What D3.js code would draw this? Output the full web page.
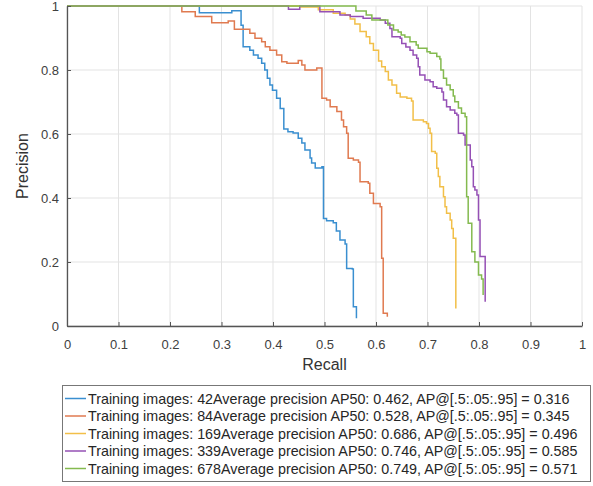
<!DOCTYPE html>
<meta charset="utf-8">
<html>
<head>
<title>precision recall</title>
<style>
    body {
        margin: 0;
        background: #fff;
        font-family: "Liberation Sans", Arial, sans-serif;
    }
</style>
<script src="https://d3js.org/d3.v7.min.js"></script>
</head>
<body>
<div id="chart"></div>

<script>

// legend labels
var labels = [
  "Training images: 42Average precision AP50: 0.462, AP@[.5:.05:.95] = 0.316",
  "Training images: 84Average precision AP50: 0.528, AP@[.5:.05:.95] = 0.345",
  "Training images: 169Average precision AP50: 0.686, AP@[.5:.05:.95] = 0.496",
  "Training images: 339Average precision AP50: 0.746, AP@[.5:.05:.95] = 0.585",
  "Training images: 678Average precision AP50: 0.749, AP@[.5:.05:.95] = 0.571"
];
var colors = ["#3a8fd0", "#e07a50", "#f2bf48", "#9550b5", "#84ba4f"];

// tick values
var xTicks = [0, 0.1, 0.2, 0.3, 0.4, 0.5, 0.6, 0.7, 0.8, 0.9, 1];
var yTicks = [0, 0.2, 0.4, 0.6, 0.8, 1];

// (recall, precision)
var recall42 = [0, 0.257, 0.320, 0.338, 0.342, 0.355, 0.362, 0.371, 0.378, 0.384, 0.389, 0.394, 0.399, 0.407, 0.414, 0.421, 0.429, 0.439, 0.449, 0.456, 0.462, 0.472, 0.475, 0.482, 0.495, 0.498, 0.504, 0.517, 0.523, 0.530, 0.540, 0.543, 0.554, 0.556, 0.562, 0.562];
var prec42   = [1, 0.979, 0.985, 0.940, 0.873, 0.862, 0.847, 0.837, 0.821, 0.800, 0.774, 0.753, 0.737, 0.712, 0.680, 0.616, 0.607, 0.603, 0.587, 0.572, 0.550, 0.525, 0.509, 0.494, 0.498, 0.336, 0.329, 0.323, 0.297, 0.269, 0.256, 0.180, 0.178, 0.060, 0.058, 0.024];

var recall84 = [0, 0.223, 0.249, 0.281, 0.313, 0.325, 0.355, 0.365, 0.378, 0.385, 0.394, 0.407, 0.417, 0.427, 0.449, 0.456, 0.462, 0.485, 0.495, 0.504, 0.511, 0.524, 0.533, 0.537, 0.543, 0.546, 0.556, 0.566, 0.569, 0.585, 0.588, 0.595, 0.608, 0.611, 0.614, 0.622];
var prec84   = [1, 0.982, 0.967, 0.948, 0.953, 0.927, 0.915, 0.899, 0.888, 0.873, 0.862, 0.847, 0.826, 0.821, 0.830, 0.816, 0.800, 0.806, 0.712, 0.706, 0.685, 0.670, 0.644, 0.623, 0.602, 0.524, 0.519, 0.512, 0.451, 0.446, 0.415, 0.383, 0.373, 0.212, 0.040, 0.029];

var recall169 = [0, 0.452, 0.488, 0.517, 0.540, 0.550, 0.559, 0.569, 0.581, 0.588, 0.595, 0.605, 0.611, 0.618, 0.624, 0.631, 0.640, 0.647, 0.660, 0.669, 0.672, 0.692, 0.698, 0.702, 0.705, 0.708, 0.715, 0.718, 0.721, 0.724, 0.731, 0.734, 0.737, 0.744, 0.747, 0.750, 0.755, 0.755];
var prec169   = [1, 0.997, 0.988, 0.977, 0.972, 0.959, 0.944, 0.920, 0.904, 0.883, 0.862, 0.828, 0.810, 0.795, 0.769, 0.753, 0.727, 0.716, 0.712, 0.703, 0.644, 0.638, 0.633, 0.618, 0.602, 0.545, 0.540, 0.493, 0.467, 0.435, 0.404, 0.373, 0.352, 0.331, 0.305, 0.274, 0.269, 0.055];

var recall339 = [0, 0.430, 0.452, 0.491, 0.530, 0.550, 0.575, 0.608, 0.618, 0.627, 0.631, 0.647, 0.650, 0.658, 0.666, 0.672, 0.679, 0.682, 0.685, 0.695, 0.705, 0.711, 0.718, 0.728, 0.731, 0.737, 0.744, 0.753, 0.757, 0.760, 0.770, 0.773, 0.783, 0.786, 0.789, 0.792, 0.796, 0.799, 0.802, 0.812];
var prec339   = [1, 0.990, 1, 0.982, 0.972, 0.967, 0.962, 0.956, 0.946, 0.930, 0.904, 0.899, 0.883, 0.872, 0.862, 0.847, 0.837, 0.810, 0.784, 0.769, 0.763, 0.748, 0.743, 0.731, 0.706, 0.685, 0.675, 0.665, 0.659, 0.602, 0.597, 0.566, 0.519, 0.498, 0.435, 0.425, 0.409, 0.331, 0.217, 0.076];

var recall678 = [0, 0.561, 0.581, 0.592, 0.623, 0.634, 0.643, 0.649, 0.656, 0.666, 0.678, 0.682, 0.699, 0.705, 0.718, 0.724, 0.726, 0.731, 0.737, 0.744, 0.750, 0.753, 0.760, 0.766, 0.773, 0.776, 0.779, 0.786, 0.792, 0.799, 0.805, 0.808];
var prec678   = [1, 0.984, 0.972, 0.956, 0.941, 0.925, 0.919, 0.909, 0.903, 0.888, 0.878, 0.868, 0.857, 0.852, 0.842, 0.834, 0.800, 0.774, 0.753, 0.738, 0.719, 0.701, 0.681, 0.665, 0.654, 0.404, 0.321, 0.232, 0.200, 0.159, 0.147, 0.097];

var series = [
  [recall42, prec42],
  [recall84, prec84],
  [recall169, prec169],
  [recall339, prec339],
  [recall678, prec678]
];

// set the dimensions and margins of the graph
var W = 593, H = 486;
var margin = {top: 6, right: 11, bottom: 160, left: 67},
    width = W - margin.left - margin.right,
    height = H - margin.top - margin.bottom;

var x = d3.scaleLinear().domain([0, 1]).range([0, width]);
var y = d3.scaleLinear().domain([0, 1]).range([height, 0]);

var svg = d3.select("#chart")
  .append("svg")
    .attr("width", W)
    .attr("height", H);

var g = svg.append("g")
    .attr("transform", "translate(" + margin.left + "," + margin.top + ")");

// grid
g.append("g")
    .selectAll("line")
    .data(xTicks)
    .join("line")
      .attr("x1", d => x(d)).attr("x2", d => x(d))
      .attr("y1", 0).attr("y2", height)
      .attr("stroke", "#e3e3e3");
g.append("g")
    .selectAll("line")
    .data(yTicks)
    .join("line")
      .attr("y1", d => y(d)).attr("y2", d => y(d))
      .attr("x1", 0).attr("x2", width)
      .attr("stroke", "#e3e3e3");

// the curves
var line = d3.line()
    .x(d => x(d[0]))
    .y(d => y(d[1]))
    .curve(d3.curveStepAfter);

series.forEach(function(s, i) {
  var pts = s[0].map((r, j) => [r, s[1][j]]);
  g.append("path")
      .datum(pts)
      .attr("fill", "none")
      .attr("stroke", colors[i])
      .attr("stroke-width", 1.5)
      .attr("d", line);
});

// axes (ticks point inward like matlab)
var xAxis = g.append("g")
    .attr("transform", "translate(0," + height + ")")
    .call(d3.axisBottom(x).tickValues(xTicks).tickFormat(d3.format("")).tickSizeInner(-4).tickSizeOuter(0).tickPadding(14));
var yAxis = g.append("g")
    .call(d3.axisLeft(y).tickValues(yTicks).tickFormat(d3.format("")).tickSizeInner(-4).tickSizeOuter(0).tickPadding(8));

[xAxis, yAxis].forEach(function(a) {
  a.select(".domain").attr("stroke", "#555").attr("stroke-width", 1.3);
  a.selectAll(".tick line").attr("stroke", "#555");
  a.selectAll(".tick text")
      .attr("fill", "#404040")
      .style("font-size", "13px")
      .style("font-family", "'Liberation Sans', Arial, sans-serif");
});

// axis labels
svg.append("text")
    .attr("x", margin.left + width / 2)
    .attr("y", 370)
    .attr("text-anchor", "middle")
    .attr("fill", "#333")
    .style("font-size", "16px")
    .text("Recall");

svg.append("text")
    .attr("transform", "translate(28," + (margin.top + height / 2) + ") rotate(-90)")
    .attr("text-anchor", "middle")
    .attr("fill", "#333")
    .style("font-size", "16px")
    .text("Precision");

// legend
var leg = svg.append("g");
leg.append("rect")
    .attr("x", 62.5).attr("y", 385.5)
    .attr("width", 528).attr("height", 96)
    .attr("fill", "#fff")
    .attr("stroke", "#777");

var rowY = d3.scalePoint().domain(d3.range(labels.length)).range([398.5, 468.5]);

labels.forEach(function(t, i) {
  leg.append("line")
      .attr("x1", 65).attr("x2", 86)
      .attr("y1", rowY(i)).attr("y2", rowY(i))
      .attr("stroke", colors[i])
      .attr("stroke-width", 1.5);
  leg.append("text")
      .attr("x", 88)
      .attr("y", rowY(i))
      .attr("dy", "0.35em")
      .attr("fill", "#262626")
      .style("font-size", "14.3px")
      .text(t);
});

</script>
</body>
</html>
